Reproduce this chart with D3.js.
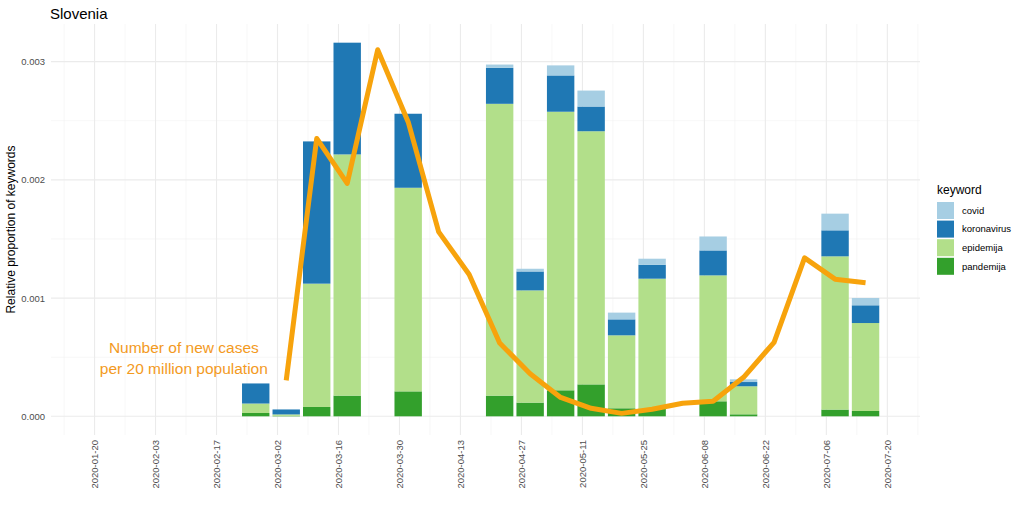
<!DOCTYPE html>
<html><head><meta charset="utf-8">
<script src="https://cdn.jsdelivr.net/npm/d3@7"></script>
<style>
body{margin:0;background:#fff;}
text{font-family:"Liberation Sans", Arial, Helvetica, sans-serif;}
</style>
</head><body>
<svg id="chart" width="1024" height="511"></svg>
<script>
// ---- data ----
const weeks = ["2020-02-26","2020-03-04","2020-03-11","2020-03-18","2020-04-01","2020-04-22","2020-04-29","2020-05-06","2020-05-13","2020-05-20","2020-05-27","2020-06-10","2020-06-17","2020-07-08","2020-07-15"];
const pandemija   = [0.000028,0.000004,0.000079,0.000175,0.000211,0.000175,0.000116,0.000220,0.000270,0.000068,0.000065,0.000127,0.000017,0.000057,0.000045];
const epidemija   = [0.000080,0.000012,0.001043,0.002040,0.001722,0.002468,0.000949,0.002356,0.002141,0.000617,0.001099,0.001065,0.000237,0.001296,0.000744];
const koronavirus = [0.000170,0.000042,0.001203,0.000945,0.000626,0.000304,0.000160,0.000307,0.000209,0.000135,0.000118,0.000211,0.000036,0.000220,0.000150];
const covid       = [0,0,0,0,0,0.000028,0.000023,0.000085,0.000135,0.000057,0.000051,0.000118,0.000023,0.000141,0.000062];

const lineDates  = ["2020-03-04","2020-03-11","2020-03-18","2020-03-25","2020-04-01","2020-04-08","2020-04-15","2020-04-22","2020-04-29","2020-05-06","2020-05-13","2020-05-20","2020-05-27","2020-06-03","2020-06-10","2020-06-17","2020-06-24","2020-07-01","2020-07-08","2020-07-15"];
const newCasesScaled = [0.000304,0.00235,0.00197,0.00310,0.00249,0.00156,0.00120,0.00062,0.00036,0.00016,0.000068,0.000025,0.00006,0.00011,0.000127,0.00033,0.000626,0.00134,0.00116,0.00113];

const keywords = ["covid","koronavirus","epidemija","pandemija"];
const keywordColors = ["#A6CEE3","#1F78B4","#B2DF8A","#33A02C"];

const xTickLabels = ["2020-01-20","2020-02-03","2020-02-17","2020-03-02","2020-03-16","2020-03-30","2020-04-13","2020-04-27","2020-05-11","2020-05-25","2020-06-08","2020-06-22","2020-07-06","2020-07-20"];
const xMinorTicks = ["2020-01-13","2020-01-27","2020-02-10","2020-02-24","2020-03-09","2020-03-23","2020-04-06","2020-04-20","2020-05-04","2020-05-18","2020-06-01","2020-06-15","2020-06-29","2020-07-13","2020-07-27"];
const yTicks = [0, 0.001, 0.002, 0.003];
const yMinorTicks = [0.0005, 0.0015, 0.0025];
const xDomain = ["2020-01-10T00:00","2020-07-27T12:00"];

const titleText = "Slovenia";
const yTitle = "Relative proportion of keywords";
const annotationLines = ["Number of new cases", "per 20 million population"];
const annotationAt = {date: "2020-02-09T12:00", value: 0.000456};

// ---- setup ----
const parse = d3.utcParse("%Y-%m-%d");
const parseT = d3.utcParse("%Y-%m-%dT%H:%M");
const svg = d3.select("#chart");
const M = {left: 51, right: 920, top: 24, bottom: 435};

const rows = weeks.map((w,i)=>({date: parse(w), pandemija: pandemija[i], epidemija: epidemija[i], koronavirus: koronavirus[i], covid: covid[i]}));
const stackKeys = ["pandemija","epidemija","koronavirus","covid"];
const stacked = d3.stack().keys(stackKeys)(rows);

const maxV = Math.max(d3.max(stacked[stacked.length-1], d=>d[1]), d3.max(newCasesScaled));
const pad = 0.05 * maxV;
const y = d3.scaleLinear().domain([0 - pad, maxV + pad]).range([M.bottom, M.top]);
const x = d3.scaleUtc().domain(xDomain.map(parseT)).range([M.left, M.right]);
const color = d3.scaleOrdinal().domain(keywords).range(keywordColors);

// ---- grid ----
const grid = svg.append("g");
grid.selectAll("line.ymin").data(yMinorTicks).join("line")
  .attr("x1", M.left).attr("x2", M.right)
  .attr("y1", d=>y(d)).attr("y2", d=>y(d))
  .attr("stroke", "#f2f2f2").attr("stroke-width", 0.6);
grid.selectAll("line.xmin").data(xMinorTicks).join("line")
  .attr("x1", d=>x(parse(d))).attr("x2", d=>x(parse(d)))
  .attr("y1", M.top).attr("y2", M.bottom)
  .attr("stroke", "#f2f2f2").attr("stroke-width", 0.6);
grid.selectAll("line.ymaj").data(yTicks).join("line")
  .attr("x1", M.left).attr("x2", M.right)
  .attr("y1", d=>y(d)).attr("y2", d=>y(d))
  .attr("stroke", "#ebebeb").attr("stroke-width", 1.1);
grid.selectAll("line.xmaj").data(xTickLabels).join("line")
  .attr("x1", d=>x(parse(d))).attr("x2", d=>x(parse(d)))
  .attr("y1", M.top).attr("y2", M.bottom)
  .attr("stroke", "#ebebeb").attr("stroke-width", 1.1);

// ---- bars ----
const barW = x(d3.utcHour.offset(parse("2020-03-02"), 151)) - x(parse("2020-03-02"));
svg.append("g").selectAll("g").data(stacked).join("g")
  .attr("fill", d=>color(d.key))
  .selectAll("rect").data(d=>d).join("rect")
  .attr("x", d=>x(d.data.date) - barW/2)
  .attr("width", barW)
  .attr("y", d=>y(d[1]))
  .attr("height", d=>Math.max(0, y(d[0]) - y(d[1])));

// ---- line ----
const lineData = lineDates.map((d,i)=>({date: parse(d), v: newCasesScaled[i]}));
svg.append("path").datum(lineData)
  .attr("fill","none").attr("stroke","#F7A30C").attr("stroke-width",5)
  .attr("stroke-linejoin","round").attr("stroke-linecap","butt")
  .attr("d", d3.line().x(d=>x(d.date)).y(d=>y(d.v)));

// ---- annotation ----
const ann = svg.append("text")
  .attr("x", x(parseT(annotationAt.date)))
  .attr("y", y(annotationAt.value))
  .attr("text-anchor","middle").attr("fill","#F39A1E")
  .attr("font-size", 15.5);
annotationLines.forEach((t,i)=>{
  ann.append("tspan").attr("x", x(parseT(annotationAt.date)))
    .attr("dy", i===0 ? "-0.6em" : "1.38em").text(t);
});

// ---- axes ----
const yAxis = svg.append("g").attr("transform", `translate(${M.left},0)`)
  .call(d3.axisLeft(y).tickValues(yTicks).tickFormat(d3.format(".3f")).tickSize(0).tickPadding(6));
yAxis.select(".domain").remove();
yAxis.selectAll("text").attr("fill","#4d4d4d").attr("font-size", 9.5)
  .style("font-family", '"Liberation Sans", Arial, sans-serif');

const xAxis = svg.append("g").attr("transform", `translate(0,${M.bottom})`)
  .call(d3.axisBottom(x).tickValues(xTickLabels.map(parse)).tickFormat(d3.utcFormat("%Y-%m-%d")).tickSize(0));
xAxis.select(".domain").remove();
xAxis.selectAll("text")
  .attr("transform","rotate(-90)")
  .attr("text-anchor","end")
  .attr("x", -5).attr("y", 0).attr("dy","0.35em")
  .attr("fill","#4d4d4d").attr("font-size", 9.5)
  .style("font-family", '"Liberation Sans", Arial, sans-serif');

// ---- titles ----
svg.append("text").attr("x", 50).attr("y", 19).attr("font-size", 15).attr("fill","#000").text(titleText);
svg.append("text").attr("transform", `translate(15,${(M.top+M.bottom)/2}) rotate(-90)`)
  .attr("text-anchor","middle").attr("font-size", 12).attr("fill","#000").text(yTitle);

// ---- legend ----
const lg = svg.append("g").attr("transform","translate(937,194)");
lg.append("text").attr("x",0).attr("y",0).attr("font-size",12).attr("fill","#000").text("keyword");
const items = lg.selectAll("g.item").data(keywords).join("g")
  .attr("transform",(d,i)=>`translate(0,${8 + i*18.6})`);
items.append("rect").attr("width",17).attr("height",17).attr("fill", d=>color(d));
items.append("text").attr("x",25).attr("y",8.5).attr("dy","0.35em")
  .attr("font-size",9.5).attr("fill","#000").text(d=>d);
</script>
</body></html>
